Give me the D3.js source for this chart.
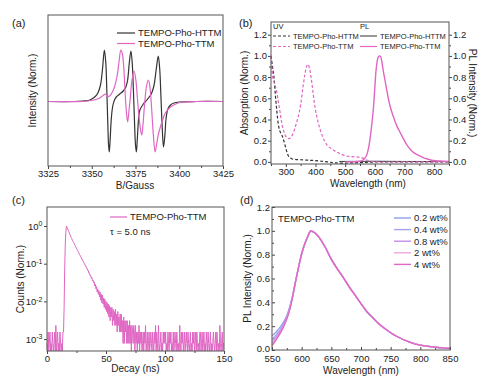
<!DOCTYPE html>
<html lang="en">
<head>
<meta charset="UTF-8">
<title>TEMPO-Pho-TTM</title>
<script src="https://d3js.org/d3.v7.min.js"></script>
<style>
    body { margin: 0; background: #fff; }
    svg text { font-family: Arial, "Liberation Sans", sans-serif; fill: #222; }
    .tick line { stroke: #444; }
</style>
</head>
<body>
<div id="fig"></div>
<script>
    // (a) EPR, field in Gauss and normalised derivative intensity
    const eprFieldHttm = [3325, 3340, 3345, 3348, 3350, 3352, 3353.5, 3355, 3356.2, 3357.2, 3358, 3358.6, 3359.2, 3359.6, 3360,
        3360.5, 3361.2, 3362, 3363, 3364, 3366, 3368, 3369.5, 3370.5, 3371.5, 3372.4, 3373.2, 3373.8, 3374.4, 3375,
        3375.5, 3376, 3376.8, 3377.5, 3379.5, 3381.5, 3384, 3385.5, 3386.8, 3388, 3388.8, 3389.5, 3390.2, 3391, 3391.8,
        3392.5, 3393.5, 3395, 3397, 3400, 3410, 3425];
    const eprHttm = [0, 0, 0.01, 0.02, 0.05, 0.10, 0.17, 0.33, 0.67, 1.03, 0.79, 0.23, -0.47, -0.87, -1.01,
        -0.77, -0.33, -0.09, 0.03, 0.09, 0.15, 0.21, 0.29, 0.43, 0.79, 1.01, 0.73, 0.23, -0.37, -0.87,
        -1.01, -0.77, -0.33, -0.17, -0.05, 0.03, 0.15, 0.31, 0.63, 0.91, 0.67, 0.13, -0.47, -0.91, -0.67,
        -0.33, -0.15, -0.07, -0.03, -0.01, 0, 0];
    const eprFieldTtm = [3325, 3345, 3350, 3354, 3356.5, 3357.8, 3359, 3360.3, 3361.5, 3363, 3364.5, 3365.7, 3366.6, 3367.5, 3368.3,
        3369, 3369.8, 3370.5, 3371.2, 3372, 3373, 3374.2, 3375.2, 3376, 3377, 3378, 3378.6, 3379.3, 3380.3, 3381.3,
        3382.4, 3383.3, 3384.2, 3385.2, 3386.2, 3387, 3388, 3389.2, 3390.5, 3392, 3395, 3398.7, 3402, 3410, 3425];
    const eprTtm = [0, 0, 0.02, 0.06, 0.12, 0.15, 0.10, 0.11, 0.17, 0.29, 0.51, 0.83, 1.03, 0.95, 0.67,
        0.23, -0.21, -0.41, -0.21, 0.07, 0.43, 0.61, 0.43, 0.11, -0.31, -0.59, -0.67, -0.45, -0.01, 0.31,
        0.43, 0.27, -0.13, -0.67, -1.01, -0.87, -0.67, -0.51, -0.37, -0.23, -0.11, -0.04, -0.01, 0, 0];

    // (b) UV absorption (dashed) and PL (solid)
    const uvWaveHttm = [250, 255, 260, 265, 270, 275, 280, 285, 290, 295, 300, 305, 310, 320, 335, 350, 380, 410, 440, 470, 520, 570, 620, 700, 850];
    const uvHttm = [1.0, 0.9, 0.8, 0.62, 0.47, 0.35, 0.29, 0.26, 0.23, 0.18, 0.13, 0.08, 0.05, 0.03, 0.022, 0.02, 0.015, 0.01, 0.0, -0.01, -0.01, -0.004, 0.0, 0.0, 0.0];
    const uvWaveTtm = [250, 253, 257, 262, 268, 274, 280, 286, 292, 298, 304, 310, 318, 326, 334, 342, 350, 358, 364, 370, 375, 380, 386, 392,
        398, 405, 412, 420, 430, 440, 455, 470, 485, 500, 520, 545, 560, 570, 585, 605, 700, 850];
    const uvTtm = [1.0, 0.88, 0.78, 0.74, 0.68, 0.58, 0.48, 0.37, 0.3, 0.25, 0.225, 0.22, 0.235, 0.28, 0.35, 0.43, 0.54, 0.71, 0.82, 0.9, 0.92, 0.88, 0.78, 0.65,
        0.52, 0.42, 0.34, 0.27, 0.2, 0.155, 0.12, 0.095, 0.075, 0.058, 0.05, 0.045, 0.035, 0.02, 0.006, 0.0, 0.0, 0.0];
    const plWaveHttm = [480, 550, 600, 650, 700, 750, 800, 850];
    const plHttm = [0.004, 0.005, 0.006, 0.005, 0.004, 0.004, 0.003, 0.003];
    const plWaveTtm = [500, 540, 555, 565, 572, 578, 584, 590, 595, 600, 604, 608, 612, 616, 620, 624, 629, 635, 640, 651, 662, 674,
        685, 696, 708, 719, 730, 741, 763, 780, 797, 820, 850];
    const plTtm = [0.0, 0.003, 0.01, 0.03, 0.06, 0.12, 0.22, 0.36, 0.5, 0.7, 0.86, 0.95, 0.99, 1.0, 0.99, 0.94, 0.85, 0.76, 0.68, 0.53, 0.43, 0.34,
        0.28, 0.22, 0.16, 0.12, 0.09, 0.07, 0.04, 0.025, 0.013, 0.008, 0.005];

    // (c) TCSPC decay, raw counts in 0.5 ns bins
    const decayBin = 0.5;
    const decayCounts = [
        1, 0, 2, 0, 1, 2, 0, 1, 0, 2, 1, 0, 1, 2, 0, 3, 0, 1, 2, 0, 1, 0, 2, 1, 0, 1, 0, 2,
        2, 9, 95, 430, 960, 1300,
        1195, 1088, 1004, 911, 845, 762, 710, 641,
        597, 546, 518, 471, 449, 409, 389, 352,
        338, 305, 292, 264, 254, 228, 219, 198,
        193, 172, 169, 150, 147, 131, 129, 114,
        113, 99, 98, 85, 86, 73, 74, 62,
        64, 53, 56, 46, 48, 40, 43, 33,
        37, 28, 32, 23, 28, 20, 25, 17,
        23, 14, 20, 12, 19, 11, 16, 9,
        15, 8, 13, 7, 12, 6, 11, 5,
        10, 4, 9, 5, 9, 3, 8, 4,
        7, 3, 8, 3, 6, 2, 7, 3,
        5, 2, 6, 2, 6, 2, 4, 1,
        5, 1, 4, 2, 4, 1, 4, 1,
        3, 1, 4, 1, 3, 0, 3, 2,
        1, 3, 2, 0, 3, 1, 2, 0,
        2, 1, 3, 0, 2, 1,
        2, 0, 1, 2, 0, 2, 1, 3, 0, 1, 2, 0, 1, 2, 0, 1, 2, 1, 0, 2, 1, 0, 2, 1, 3, 0, 2, 1, 0, 3, 1, 0, 1, 2, 0, 1, 0, 2, 1, 2,
        1, 2, 0, 1, 0, 2, 1, 0, 2, 1, 2, 0, 1, 0, 2, 0, 1, 2, 1, 0, 2, 1, 0, 1, 0, 3, 1, 0, 2, 1, 2, 0, 1, 2, 0, 1, 2, 1, 0, 2,
        1, 0, 1, 2, 0, 1, 0, 2, 1, 2, 0, 1, 2, 0, 2, 1, 0, 1, 0, 2, 2, 0, 1, 2, 0, 1, 2, 0, 1, 0, 2, 1, 0, 2, 1, 0, 1, 2, 0, 1,
        0, 1, 2, 1, 0, 1, 2, 0, 2, 1, 0, 1, 0, 3, 1, 0, 1, 2, 0, 1, 1];

    // (d) film PL at different doping
    const filmWave = [550, 555, 560, 565, 570, 575, 580, 585, 590, 595, 600, 605, 610, 615, 620, 625, 630, 640, 650, 660,
        670, 680, 690, 700, 710, 720, 730, 740, 750, 760, 770, 780, 790, 800, 810, 820, 830, 840, 850];
    const film02 = [0.12, 0.14, 0.17, 0.20, 0.24, 0.29, 0.365, 0.465, 0.585, 0.70, 0.80, 0.885, 0.945, 0.995, 0.99, 0.97, 0.94, 0.86, 0.765, 0.685,
        0.61, 0.535, 0.46, 0.39, 0.325, 0.27, 0.22, 0.18, 0.145, 0.115, 0.09, 0.07, 0.054, 0.042, 0.034, 0.028, 0.022, 0.018, 0.014];
    const film04 = [0.09, 0.115, 0.145, 0.18, 0.225, 0.28, 0.355, 0.46, 0.585, 0.70, 0.805, 0.885, 0.95, 1.0, 0.99, 0.97, 0.94, 0.86, 0.76, 0.68,
        0.61, 0.53, 0.46, 0.39, 0.32, 0.27, 0.22, 0.18, 0.145, 0.115, 0.09, 0.07, 0.053, 0.041, 0.033, 0.027, 0.021, 0.017, 0.013];
    const film08 = [0.065, 0.095, 0.13, 0.17, 0.215, 0.27, 0.35, 0.455, 0.58, 0.70, 0.81, 0.89, 0.95, 1.0, 0.99, 0.97, 0.94, 0.86, 0.76, 0.68,
        0.61, 0.53, 0.46, 0.39, 0.32, 0.27, 0.22, 0.18, 0.145, 0.115, 0.09, 0.07, 0.053, 0.041, 0.033, 0.027, 0.021, 0.017, 0.013];
    const film2 = [0.048, 0.08, 0.115, 0.155, 0.205, 0.265, 0.345, 0.45, 0.58, 0.70, 0.81, 0.89, 0.95, 1.0, 0.99, 0.97, 0.94, 0.86, 0.76, 0.68,
        0.61, 0.53, 0.46, 0.39, 0.32, 0.27, 0.22, 0.18, 0.145, 0.115, 0.09, 0.07, 0.053, 0.041, 0.033, 0.027, 0.021, 0.017, 0.013];
    const film4 = [0.036, 0.07, 0.11, 0.15, 0.20, 0.26, 0.34, 0.45, 0.58, 0.70, 0.81, 0.89, 0.95, 1.00, 0.99, 0.97, 0.94, 0.86, 0.76, 0.68,
        0.61, 0.53, 0.46, 0.39, 0.32, 0.27, 0.22, 0.18, 0.145, 0.115, 0.09, 0.07, 0.052, 0.04, 0.032, 0.026, 0.02, 0.016, 0.012];
    const filmLabels = ["0.2 wt%", "0.4 wt%", "0.8 wt%", "2 wt%", "4 wt%"];

    const black = "#333";
    const pink = "#e066c4";
    const filmColors = ["#8f9fe6", "#a5a2ec", "#c58ce8", "#eda6de", "#e066c4"];

    const svg = d3.select("#fig").append("svg").attr("width", 500).attr("height", 384);

    function frame(x, y) {
        const [x0, x1] = x.range(), [y0, y1] = y.range();
        svg.append("rect")
            .attr("x", x0).attr("y", y1).attr("width", x1 - x0).attr("height", y0 - y1)
            .attr("fill", "none").attr("stroke", "#555").attr("stroke-width", 1);
    }

    function clean(g) {
        g.select(".domain").remove();
        g.selectAll("text").attr("font-size", "9.5px").attr("fill", "#222");
    }

    // dir = 1 ticks outward, -1 inward
    function xAxis(x, y, major, minor, dir, pad) {
        const y0 = y.range()[0];
        svg.append("g").attr("transform", `translate(0,${y0})`)
            .call(d3.axisBottom(x).tickValues(minor).tickSizeInner(2 * dir).tickSizeOuter(0).tickFormat(""))
            .call(clean);
        svg.append("g").attr("transform", `translate(0,${y0})`)
            .call(d3.axisBottom(x).tickValues(major).tickSizeInner(3 * dir).tickSizeOuter(0).tickPadding(pad).tickFormat(d3.format("d")))
            .call(clean);
    }

    function yAxis(x, y, major, minor, dir, pad, fmt, right) {
        const xp = right ? x.range()[1] : x.range()[0];
        const ax = right ? d3.axisRight : d3.axisLeft;
        if (minor.length) {
            svg.append("g").attr("transform", `translate(${xp},0)`)
                .call(ax(y).tickValues(minor).tickSizeInner(2 * dir).tickSizeOuter(0).tickFormat(""))
                .call(clean);
        }
        return svg.append("g").attr("transform", `translate(${xp},0)`)
            .call(ax(y).tickValues(major).tickSizeInner(3 * dir).tickSizeOuter(0).tickPadding(pad).tickFormat(fmt))
            .call(clean);
    }

    function drawLine(xs, ys, x, y, color, width, dash, curve) {
        const pts = xs.map((d, i) => [d, ys[i]]);
        const line = d3.line().x(d => x(d[0])).y(d => y(d[1])).curve(curve || d3.curveLinear);
        const p = svg.append("path").datum(pts)
            .attr("d", line).attr("fill", "none")
            .attr("stroke", color).attr("stroke-width", width)
            .attr("stroke-linejoin", "round");
        if (dash) p.attr("stroke-dasharray", dash);
        return p;
    }

    function text(x, y, s, size, anchor, rot) {
        const t = svg.append("text").attr("font-size", size + "px").attr("text-anchor", anchor || "start").text(s);
        if (rot) t.attr("transform", `translate(${x},${y}) rotate(${rot})`).attr("dy", "0.35em");
        else t.attr("x", x).attr("y", y);
        return t;
    }

    function legendRow(x, y, len, color, dash, label, size, width) {
        svg.append("line").attr("x1", x).attr("x2", x + len).attr("y1", y).attr("y2", y)
            .attr("stroke", color).attr("stroke-width", width || 1.2).attr("stroke-dasharray", dash || null);
        text(x + len + 3, y + size * 0.35, label, size);
    }

    // ---------- (a) ----------
    const xa = d3.scaleLinear().domain([3325, 3425]).range([48, 223]);
    const ya = d3.scaleLinear().domain([-1.29, 1.73]).range([166, 15]);
    xAxis(xa, ya, d3.range(3325, 3426, 25), d3.range(3337.5, 3425, 25), 1, 1);
    const smooth = d3.curveCatmullRom.alpha(0.5);
    drawLine(eprFieldHttm, eprHttm, xa, ya, black, 1.2, null, smooth);
    drawLine(eprFieldTtm, eprTtm, xa, ya, pink, 1.2, null, smooth);
    frame(xa, ya);
    legendRow(117, 33, 18, black, null, "TEMPO-Pho-HTTM", 9.5);
    legendRow(117, 43.5, 18, pink, null, "TEMPO-Pho-TTM", 9.5);
    text(12, 27, "(a)", 11);
    text(135, 189, "B/Gauss", 10, "middle");
    text(32, 90.5, "Intensity (Norm.)", 10, "middle", -90);

    // ---------- (b) ----------
    const xb = d3.scaleLinear().domain([250, 850]).range([271, 449]);
    const yb = d3.scaleLinear().domain([-0.02, 1.32]).range([164, 22]);
    xAxis(xb, yb, d3.range(300, 801, 100), d3.range(250, 851, 50).filter(v => v % 100 !== 0), 1, 1);
    const bMajor = [0, 0.2, 0.4, 0.6, 0.8, 1.0, 1.2];
    const bMinor = [0.1, 0.3, 0.5, 0.7, 0.9, 1.1];
    yAxis(xb, yb, bMajor, bMinor, 1, 1, d3.format(".1f"), false);
    yAxis(xb, yb, bMajor, bMinor, 1, 1, d3.format(".1f"), true);
    drawLine(uvWaveHttm, uvHttm, xb, yb, black, 1.2, "3,2", smooth);
    drawLine(plWaveHttm, plHttm, xb, yb, black, 1, null, smooth);
    drawLine(uvWaveTtm, uvTtm, xb, yb, pink, 1.2, "3,2", smooth);
    drawLine(plWaveTtm, plTtm, xb, yb, pink, 1.4, null, smooth);
    frame(xb, yb);
    text(273, 29, "UV", 7.5);
    text(360, 29, "PL", 7.5);
    legendRow(273, 36, 17, black, "3,2", "TEMPO-Pho-HTTM", 7.5, 1);
    legendRow(273, 46.5, 17, pink, "3,2", "TEMPO-Pho-TTM", 7.5, 1);
    legendRow(360, 36, 17, black, null, "TEMPO-Pho-HTTM", 7.5, 1);
    legendRow(360, 46.5, 17, pink, null, "TEMPO-Pho-TTM", 7.5, 1.2);
    text(239, 27, "(b)", 11);
    text(368, 187, "Wavelength (nm)", 10, "middle");
    text(244.5, 93, "Absorption (Norm.)", 10, "middle", -90);
    text(472, 93, "PL Intensity (Norm.)", 10, "middle", 90);

    // ---------- (c) ----------
    const xc = d3.scaleLinear().domain([0, 150]).range([47, 224]);
    const yc = d3.scaleLog().domain([4.83e-4, 3.19]).range([351, 207]);
    const peakCount = d3.max(decayCounts);
    const yMin = yc.domain()[0];
    xAxis(xc, yc, [0, 50, 100, 150], [25, 75, 125], 1, 1);
    const cy = yAxis(xc, yc, [1e-3, 1e-2, 1e-1, 1], [], 1, 1.5, () => "", false);
    cy.selectAll(".tick text").each(function (d) {
        const t = d3.select(this);
        t.text("10");
        t.append("tspan").attr("dy", "-0.45em").attr("font-size", "7px").text(Math.round(Math.log10(d)));
    });
    const decayPts = decayCounts.map((c, i) => [i * decayBin, Math.max(c / peakCount, yMin)]);
    svg.append("path").datum(decayPts)
        .attr("d", d3.line().x(d => xc(d[0])).y(d => yc(d[1])))
        .attr("fill", "none").attr("stroke", pink).attr("stroke-width", 1).attr("stroke-linejoin", "round");
    frame(xc, yc);
    legendRow(110, 217, 17, pink, null, "TEMPO-Pho-TTM", 9.5, 1.2);
    text(110, 234.5, "\u03c4 = 5.0 ns", 9.5);
    text(12, 204, "(c)", 11);
    text(135.5, 372, "Decay (ns)", 10, "middle");
    text(20.5, 279, "Counts (Norm.)", 10, "middle", -90);

    // ---------- (d) ----------
    const xd = d3.scaleLinear().domain([550, 850]).range([272, 450]);
    const yd = d3.scaleLinear().domain([0, 1.2]).range([350, 207]);
    xAxis(xd, yd, d3.range(550, 851, 50), d3.range(575, 850, 50), -1, 5);
    const dy = yAxis(xd, yd, bMajor, bMinor, -1, 2, d3.format(".1f"), false);
    // lift the "0.0" label a little so it clears the "550" below it
    dy.selectAll(".tick text").filter(d => d === 0).attr("y", -2);
    [film02, film04, film08, film2, film4].forEach((s, i) => {
        drawLine(filmWave, s, xd, yd, filmColors[i], 1.3, null, smooth);
    });
    frame(xd, yd);
    text(278, 222, "TEMPO-Pho-TTM", 9.5);
    filmLabels.forEach((lab, i) => legendRow(394, 218 + i * 11.6, 17, filmColors[i], null, lab, 9.5, 1.4));
    text(240, 204, "(d)", 11);
    text(361, 374, "Wavelength (nm)", 10, "middle");
    text(247, 278.5, "PL Intensity (Norm.)", 10, "middle", -90);
</script>
</body>
</html>
